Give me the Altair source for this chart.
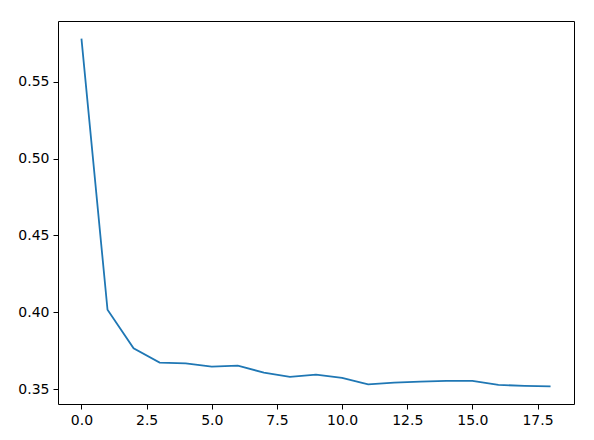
import altair as alt
import pandas as pd

epochs = list(range(19))
values = [0.578, 0.4017, 0.3766, 0.3673, 0.3668, 0.3647, 0.3653, 0.3608, 0.358,
          0.3595, 0.3574, 0.3532, 0.3543, 0.355, 0.3554, 0.3554, 0.3528, 0.3522, 0.3519]
x_ticks = [0.0, 2.5, 5.0, 7.5, 10.0, 12.5, 15.0, 17.5]
y_ticks = [0.35, 0.40, 0.45, 0.50, 0.55]

df = pd.DataFrame({"x": epochs, "y": values})

axis_common = dict(
    domain=False, grid=False, tickColor="black", tickSize=5, tickWidth=1,
    labelColor="black", labelFont="DejaVu Sans", labelFontSize=14,
    labelPadding=4, title=None,
)

chart = alt.Chart(df).mark_line(color="#1f77b4", strokeWidth=1.8).encode(
    x=alt.X("x:Q", scale=alt.Scale(domain=[-0.9, 18.9], nice=False, zero=False),
            axis=alt.Axis(values=x_ticks, format=".1f", labelFlush=False, **axis_common)),
    y=alt.Y("y:Q", scale=alt.Scale(domain=[0.3404, 0.5895], nice=False, zero=False),
            axis=alt.Axis(values=y_ticks, format=".2f", **axis_common)),
).properties(
    width=516, height=383,
    autosize=alt.AutoSizeParams(type="none"),
    padding={"left": 50, "top": 13, "right": 4, "bottom": 28},
).configure(
    background="white",
    view=alt.ViewConfig(stroke="black", strokeWidth=1),
)

chart.save("out.html", embed_options={"renderer": "svg", "actions": False})
